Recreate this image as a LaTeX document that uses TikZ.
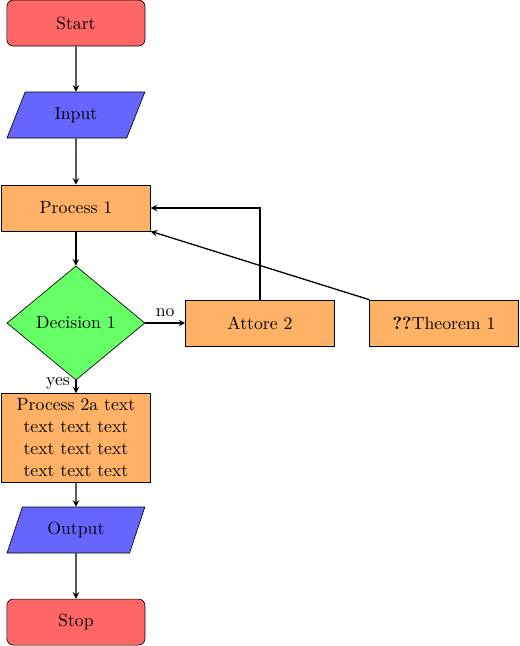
\documentclass[tikz,border=0pt]{standalone}
\usetikzlibrary{shapes.geometric,arrows}

\tikzset{
startstop/.style={rectangle, rounded corners, minimum width=3cm, minimum height=1cm, text centered, draw=black, fill=red!60},
io/.style={trapezium, trapezium stretches=true, trapezium left angle=70, trapezium right angle=110, minimum width=3cm, minimum height=1cm, text centered, draw=black, fill=blue!60},
process/.style={rectangle, minimum height=1cm, text width=3cm, text centered, draw=black, fill=orange!60},
decision/.style={diamond, minimum width=3cm, minimum height=2.48cm, text centered, draw=black, fill=green!60},
arrow/.style={thick, ->, >=stealth}
}

\begin{document}
\begin{tikzpicture}[font=\fontsize{10.95}{13.6}\selectfont]
\useasboundingbox (0,0) rectangle (11.30,-14.04);
\node (start) [startstop] at (1.65, -0.5) {Start};
\node (in1) [io] at (1.65, -2.5) {Input};
\node (pro1) [process] at (1.65, -4.52) {Process 1};
\node (dec1) [decision] at (1.65, -7.02) {Decision 1};
\node (attore2) [process] at (5.65, -7.02) {Attore 2};
\node (thm1) [process] at (9.65, -7.02) {\textbf{??}Theorem 1};
\node (pro2a) [process] at (1.65, -9.52) {Process 2a text\\ text text text\\ text text text\\ text text text};
\node (out1) [io] at (1.65, -11.52) {Output};
\node (stop) [startstop] at (1.65, -13.52) {Stop};
% connectors
\draw [arrow] (start) -- (in1);
\draw [arrow] (in1) -- (pro1);
\draw [arrow] (pro1) -- (dec1);
\draw [arrow] (dec1) -- node[near start, left] {yes} (pro2a);
\draw [arrow] (dec1) -- node[above] {no} (attore2);
\draw [arrow] (attore2) |- (pro1);
\draw [arrow] (thm1.north west) -- (pro1.south east);
\draw [arrow] (pro2a) -- (out1);
\draw [arrow] (out1) -- (stop);
\end{tikzpicture}
\end{document}
